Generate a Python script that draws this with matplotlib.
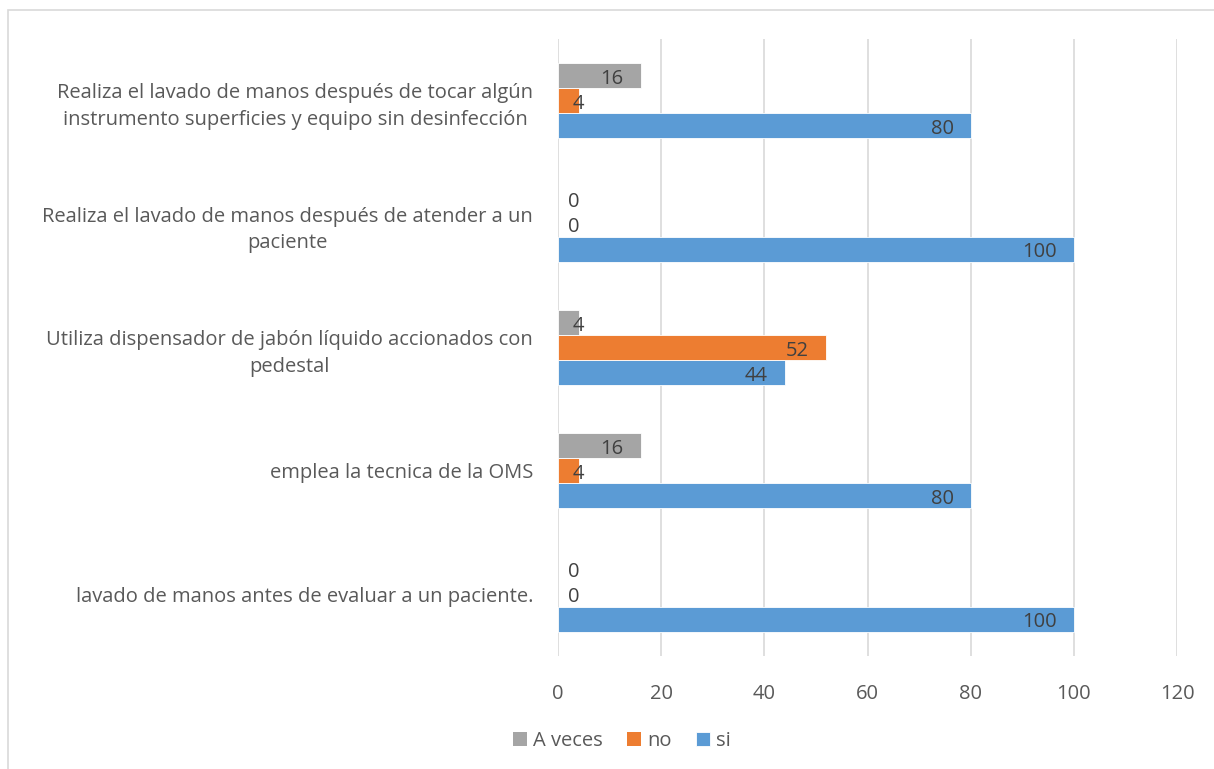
import numpy as np
import matplotlib
matplotlib.use("Agg")
from matplotlib import pyplot as plt
from matplotlib.patches import Rectangle

# categories from bottom to top
categories = [
    "lavado de manos antes de evaluar a un paciente.",
    "emplea la tecnica de la OMS",
    "Utiliza dispensador de jabón líquido accionados con\npedestal",
    "Realiza el lavado de manos después de atender a un\npaciente",
    "Realiza el lavado de manos después de tocar algún\ninstrumento superficies y equipo sin desinfección",
]
si = [100, 80, 44, 100, 80]
no = [0, 4, 52, 0, 4]
a_veces = [0, 16, 4, 0, 16]

series = [("si", si, "#5b9bd5"), ("no", no, "#ed7d31"), ("A veces", a_veces, "#a5a5a5")]
text_color = "#595959"
fs = 14.5

plt.rcParams['font.family'] = ['Open Sans', 'DejaVu Sans']

fig = plt.figure(figsize=(12.14, 7.69), dpi=100)
ax = fig.add_axes([558 / 1214, 1 - 656 / 769, (1177 - 558) / 1214, (656 - 39) / 769])

# frame around the whole chart (right and bottom edges fall outside the picture)
fig.patches.append(Rectangle((8 / 1214, -0.5), 1.5, 1.5 - 10 / 769, transform=fig.transFigure,
                             fill=False, edgecolor="#d9d9d9", linewidth=1.2))

y = np.arange(len(categories))
h = 0.203
bars = {}
for i, (name, vals, color) in enumerate(series):
    pos = y + (i - 1) * h
    bars[name] = ax.barh(pos, vals, height=h, color=color, edgecolor="white",
                         linewidth=0.6, label=name, zorder=3)
    for rect, p, v in zip(bars[name], pos, vals):
        if v == 0:
            rect.set_linewidth(0)
        if v >= 10:
            ax.text(v - 3.3, p - 0.025, str(v), ha="right", va="center", fontsize=fs,
                    color="#404040", zorder=4)
        else:
            ax.text(max(v, 3.1), p - 0.025, str(v), ha="center", va="center", fontsize=fs,
                    color="#404040", zorder=4)

ax.set_xlim(0, 120)
ax.set_ylim(-0.5, len(categories) - 0.5)
ax.set_xticks(np.arange(0, 121, 20))
ax.set_yticks(y)
ax.set_yticklabels(categories, fontsize=fs, color=text_color)
ax.tick_params(axis="y", length=0, pad=18)
for lab in ax.get_yticklabels():
    lab.set_multialignment("center")
    lab.set_linespacing(1.45)
ax.tick_params(axis="x", length=0, labelsize=fs, labelcolor=text_color, pad=20)
ax.grid(axis="x", color="#d9d9d9", linewidth=1.2, zorder=0)
for s in ax.spines.values():
    s.set_visible(False)

handles = [bars["A veces"], bars["no"], bars["si"]]
fig.legend(handles, ["A veces", "no", "si"], loc="center", bbox_to_anchor=(622 / 1214, 1 - 741 / 769),
           ncol=3, frameon=False, fontsize=fs, labelcolor=text_color,
           handlelength=0.7, handleheight=0.7, handletextpad=0.3, columnspacing=1.2)

fig.savefig("out.png", dpi=100)
